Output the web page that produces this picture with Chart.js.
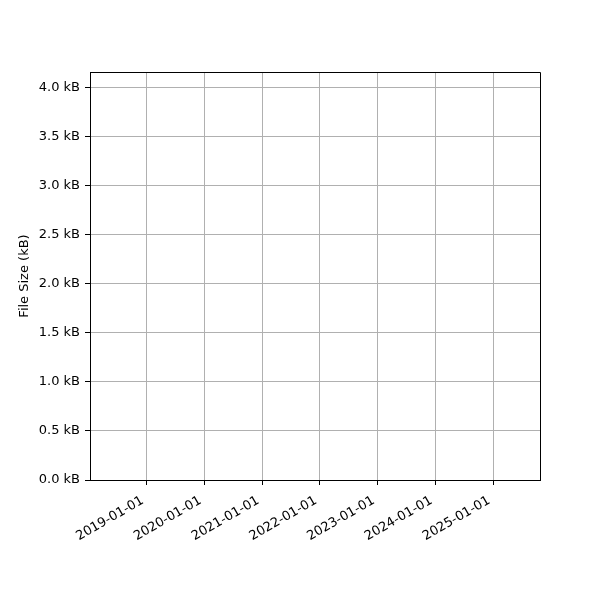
<!DOCTYPE html>
<html>
<head>
<meta charset="utf-8">
<script src="https://cdn.jsdelivr.net/npm/chart.js@4/dist/chart.umd.min.js"></script>
<style>
  body { margin: 0; background: #fff; }
</style>
</head>
<body>
<canvas id="fileSize" width="600" height="600"></canvas>
<script>
// Datos
const fechas = [];          // no hay puntos en la grafica
const tamanos = [];
const xMin = '2018-01-07';
const xMax = '2025-10-24';
const xTicks = ['2019-01-01', '2020-01-01', '2021-01-01', '2022-01-01', '2023-01-01', '2024-01-01', '2025-01-01'];
const yTicks = [0, 0.5, 1.0, 1.5, 2.0, 2.5, 3.0, 3.5, 4.0];
const yMax = 4.163;

const fuente = { family: 'DejaVu Sans', size: 13 };

// Marco superior y derecho
const marco = {
    id: 'marco',
    afterDraw(chart) {
        const { ctx, chartArea: a } = chart;
        ctx.save();
        ctx.strokeStyle = '#000';
        ctx.lineWidth = 1;
        ctx.beginPath();
        ctx.moveTo(a.left, a.top + 0.5);
        ctx.lineTo(a.right + 0.5, a.top + 0.5);
        ctx.lineTo(a.right + 0.5, a.bottom);
        ctx.stroke();
        ctx.restore();
    }
};

new Chart(document.getElementById('fileSize'), {
    type: 'line',
    data: {
        datasets: [
            {
                label: 'File Size',
                data: fechas.map((f, i) => ({ x: Date.parse(f), y: tamanos[i] })),
                borderColor: '#1f77b4',
            }
        ]
    },
    options: {
        responsive: false,
        animation: false,
        layout: { padding: { top: 72, right: 60, left: 0, bottom: 0 } },
        plugins: {
            legend: { display: false },
            tooltip: { enabled: false }
        },
        scales: {
            x: {
                type: 'linear',
                min: Date.parse(xMin),
                max: Date.parse(xMax),
                afterBuildTicks: (scale) => {
                    scale.ticks = xTicks.map(t => ({ value: Date.parse(t) }));
                },
                afterFit: (scale) => { scale.height = 120; },
                ticks: {
                    color: '#000',
                    font: fuente,
                    minRotation: 30,
                    maxRotation: 30,
                    padding: 8,
                    labelOffset: -4,
                    callback: (v) => new Date(v).toISOString().slice(0, 10)
                },
                grid: { color: '#b0b0b0', lineWidth: 1, tickColor: '#000', tickLength: 5 },
                border: { color: '#000', width: 1 }
            },
            y: {
                min: 0,
                max: yMax,
                afterBuildTicks: (scale) => {
                    scale.ticks = yTicks.map(v => ({ value: v }));
                },
                afterFit: (scale) => { scale.width = 90; },
                ticks: {
                    color: '#000',
                    font: fuente,
                    padding: 5,
                    callback: (v) => v.toFixed(1) + ' kB'
                },
                title: {
                    display: true,
                    text: 'File Size (kB)',
                    color: '#000',
                    font: fuente,
                    padding: { top: 17, bottom: 0 }
                },
                grid: { color: '#b0b0b0', lineWidth: 1, tickColor: '#000', tickLength: 5 },
                border: { color: '#000', width: 1 }
            }
        }
    },
    plugins: [marco]
});
</script>
</body>
</html>
